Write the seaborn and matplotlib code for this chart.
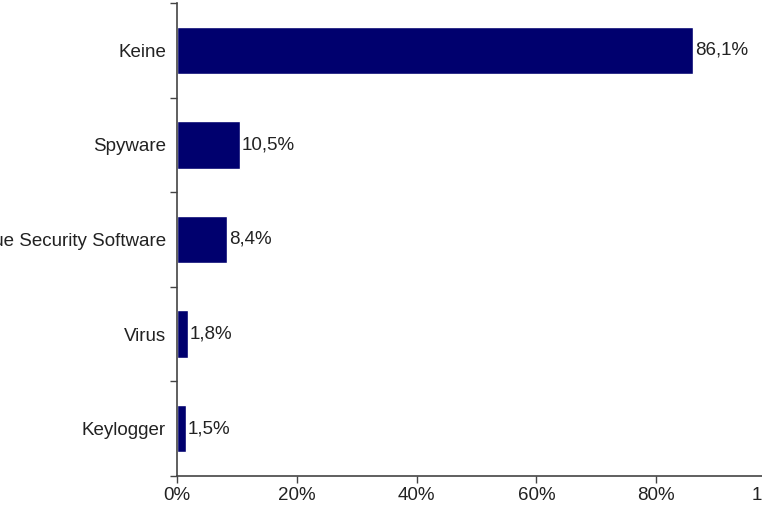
import matplotlib
matplotlib.use("Agg")
import matplotlib.pyplot as plt
import seaborn as sns
import pandas as pd
import numpy as np

categories = ["Keine", "Spyware", "Rogue Security Software", "Virus", "Keylogger"]
values = [86.1, 10.5, 8.4, 1.8, 1.5]
xticks = [0, 20, 40, 60, 80, 100]
xticklabels = ["0%", "20%", "40%", "60%", "80%", "100%"]

df = pd.DataFrame({"Kategorie": categories, "Anteil": values})

sns.set_theme(style="white")
plt.rcParams["font.family"] = ["Liberation Sans", "DejaVu Sans"]

fig = plt.figure(figsize=(7.62, 5.08), dpi=100)
ax = fig.add_axes([177 / 762, 1 - 476 / 508, (776 - 177) / 762, (476 - 3) / 508])

sns.barplot(data=df, y="Kategorie", x="Anteil", orient="h", color="#00006e",
            width=0.5, saturation=1, ax=ax)

ax.set_xlim(0, 100)
ax.set_ylim(4.5, -0.5)
ax.set_xlabel("")
ax.set_ylabel("")

ax.set_xticks(xticks)
ax.set_xticklabels(xticklabels, fontsize=13.5, color="#222222")
ax.set_yticks(range(len(categories)))
ax.set_yticklabels(categories, fontsize=13.5, color="#222222")
ax.set_yticks(np.arange(-0.5, len(categories), 1.0), minor=True)

ax.tick_params(axis="y", which="major", length=0, pad=8)
ax.tick_params(axis="y", which="minor", length=5, width=1, color="#444444", direction="out", left=True)
ax.tick_params(axis="x", which="major", length=5, width=1, color="#444444", direction="out", bottom=True, pad=3)

for s in ["top", "right"]:
    ax.spines[s].set_visible(False)
for s in ["left", "bottom"]:
    ax.spines[s].set_color("#444444")
    ax.spines[s].set_linewidth(1.2)

labels = [f"{v:.1f}".replace(".", ",") + "%" for v in values]
ax.bar_label(ax.containers[0], labels=labels, padding=1.5, fontsize=13.5, color="#222222")

fig.savefig("out.png", dpi=100)
